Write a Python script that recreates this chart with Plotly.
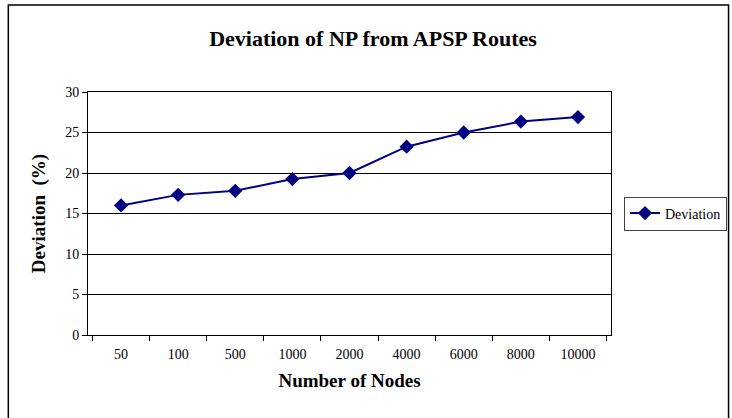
import plotly.graph_objects as go

categories = ["50", "100", "500", "1000", "2000", "4000", "6000", "8000", "10000"]
deviation = [16.0, 17.3, 17.8, 19.25, 20.0, 23.25, 25.0, 26.35, 26.9]
y_ticks = [0, 5, 10, 15, 20, 25, 30]

FONT = "Liberation Serif, Times New Roman, serif"

L, R, T, B = 88, 119, 92, 83
W, H = 732, 418
pw, ph = W - L - R, H - T - B

def px(x):
    return (x - L) / pw

def py(y):
    return (H - B - y) / ph

fig = go.Figure()
fig.add_trace(go.Scatter(
    x=categories, y=deviation, mode="lines+markers", name="Deviation",
    line=dict(color="#000080", width=2),
    marker=dict(symbol="diamond", size=11, color="#000080"),
))

fig.update_layout(
    width=W, height=H, autosize=False,
    margin=dict(l=L, r=R, t=T, b=B),
    paper_bgcolor="white", plot_bgcolor="white",
    font=dict(family=FONT, size=14, color="black"),
    title=dict(text="<b>Deviation of NP from APSP Routes</b>", x=373 / W, xanchor="center",
               y=1 - 38 / H, yanchor="middle", font=dict(size=22, family=FONT)),
    showlegend=True,
    legend=dict(xref="container", yref="container",
                x=624 / W, y=1 - 213.5 / H, xanchor="left", yanchor="middle",
                bordercolor="#444", borderwidth=1, bgcolor="white",
                font=dict(size=14, family=FONT), itemwidth=30,
                tracegroupgap=0),
    xaxis=dict(
        type="category", showgrid=False, showline=True, linecolor="black", linewidth=1,
        mirror=True, ticks="outside", ticklen=5, tickcolor="black",
        tickson="boundaries", ticklabelstandoff=6,
        title=dict(text="<b>Number of Nodes</b>", font=dict(size=19, family=FONT), standoff=12),
        tickfont=dict(size=14),
    ),
    yaxis=dict(
        range=[0, 30], tickvals=y_ticks, showgrid=True, gridcolor="black", gridwidth=1,
        showline=True, linecolor="black", linewidth=1, mirror=True,
        ticks="outside", ticklen=5, tickcolor="black", zeroline=False,
        title=dict(text="<b>Deviation  (%)</b>", font=dict(size=19, family=FONT), standoff=14),
        tickfont=dict(size=14),
    ),
    shapes=[dict(type="rect", xref="paper", yref="paper",
                 x0=px(8), x1=px(731), y0=py(430), y1=py(5),
                 line=dict(color="black", width=1.5), fillcolor="rgba(0,0,0,0)", layer="below")],
)

fig.write_html(
    "out.html",
    config={"responsive": False, "displayModeBar": False},
    post_script="document.body.style.margin='0';document.body.style.overflow='hidden';",
)
